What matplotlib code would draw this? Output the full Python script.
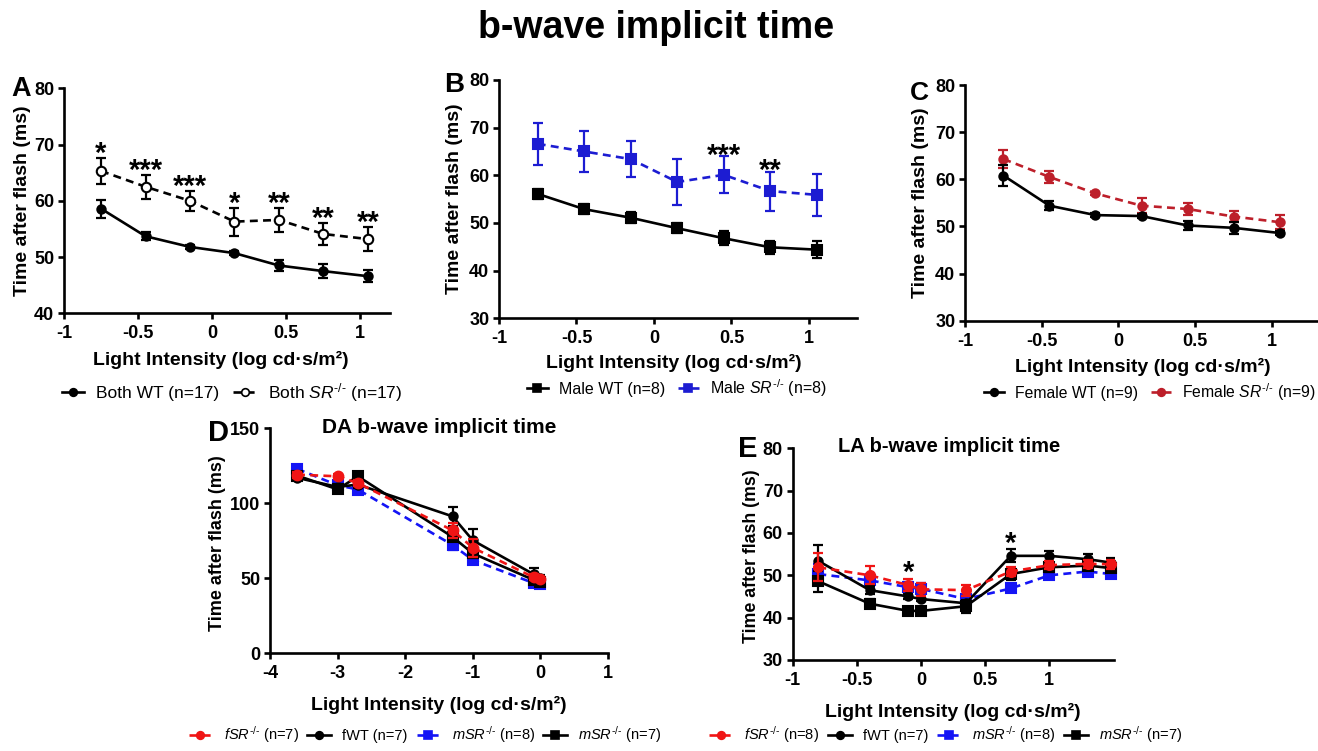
import matplotlib
matplotlib.use('Agg')
import matplotlib.pyplot as plt
from matplotlib.lines import Line2D

plt.rcParams.update({
    'font.family': ['Liberation Sans', 'DejaVu Sans'],
    'axes.unicode_minus': False,
    'mathtext.fontset': 'custom',
    'mathtext.rm': 'Liberation Sans',
    'mathtext.it': 'Liberation Sans:italic',
    'mathtext.bf': 'Liberation Sans:bold',
})

# ---------------- data ----------------
x_abc = [-0.75, -0.45, -0.15, 0.15, 0.45, 0.75, 1.05]

a_wt = [58.6, 53.7, 51.8, 50.7, 48.5, 47.5, 46.6]
a_wt_err = [1.6, 0.7, 0.4, 0.3, 1.0, 1.2, 1.1]
a_sr = [65.3, 62.5, 60.0, 56.3, 56.6, 54.1, 53.2]
a_sr_err = [2.3, 2.1, 1.8, 2.5, 2.1, 2.0, 2.2]
a_stars = ['*', '***', '***', '*', '**', '**', '**']

b_wt = [56.1, 52.9, 51.1, 48.9, 46.8, 44.9, 44.4]
b_wt_err = [1.1, 1.0, 1.2, 1.1, 1.5, 1.4, 1.8]
b_sr = [66.6, 65.0, 63.4, 58.6, 60.1, 56.7, 55.9]
b_sr_err = [4.4, 4.2, 3.7, 4.9, 3.9, 4.1, 4.4]
b_stars = ['', '', '', '', '***', '**', '']

c_wt = [60.8, 54.4, 52.4, 52.2, 50.2, 49.7, 48.6]
c_wt_err = [2.3, 1.0, 0.4, 0.5, 1.0, 1.3, 0.5]
c_sr = [64.3, 60.5, 57.0, 54.4, 53.7, 52.1, 50.9]
c_sr_err = [1.9, 1.2, 0.4, 1.6, 1.2, 1.1, 1.5]

x_d = [-3.6, -3.0, -2.7, -1.3, -1.0, -0.1, 0.0]
d_fsr = [119.1, 118.0, 113.5, 82.0, 70.4, 50.7, 49.6]
d_fsr_err = [2.0, 1.5, 2.0, 5.0, 6.0, 2.0, 1.5]
d_fwt = [117.0, 110.9, 112.5, 91.3, 75.3, 52.7, 50.5]
d_fwt_err = [1.5, 2.0, 2.0, 6.2, 7.8, 4.5, 1.5]
d_msr = [123.0, 112.0, 109.2, 72.2, 62.2, 46.8, 46.2]
d_msr_err = [1.5, 2.0, 1.5, 3.0, 2.5, 1.5, 1.5]
d_mwt = [118.5, 109.3, 118.0, 77.6, 66.6, 48.9, 47.8]
d_mwt_err = [1.5, 2.0, 1.5, 3.0, 3.0, 1.5, 1.5]

x_e = [-0.8, -0.4, -0.1, 0.0, 0.35, 0.7, 1.0, 1.3, 1.48]
e_fsr = [51.9, 50.0, 47.7, 46.7, 46.5, 50.9, 52.4, 52.7, 52.6]
e_fsr_err = [3.3, 2.1, 1.5, 1.6, 1.3, 1.0, 1.0, 1.0, 1.0]
e_fwt = [53.4, 46.5, 45.0, 44.4, 43.4, 54.6, 54.6, 53.8, 53.0]
e_fwt_err = [3.7, 1.0, 0.5, 0.5, 0.5, 1.5, 1.2, 1.2, 1.2]
e_msr = [50.3, 48.8, 47.2, 46.8, 44.4, 46.9, 50.0, 50.9, 50.3]
e_msr_err = [2.4, 1.5, 1.3, 1.3, 1.0, 0.8, 0.8, 0.8, 0.8]
e_mwt = [48.6, 43.3, 41.6, 41.6, 42.7, 50.3, 51.9, 52.3, 51.7]
e_mwt_err = [2.5, 1.0, 0.6, 0.6, 1.5, 1.5, 1.0, 1.0, 1.0]
e_stars = ['', '', '*', '', '', '*', '', '', '']

xt_abc = [-1, -0.5, 0, 0.5, 1]
xt_abc_lab = ['-1', '-0.5', '0', '0.5', '1']
xt_d = [-4, -3, -2, -1, 0, 1]
xt_d_lab = ['-4', '-3', '-2', '-1', '0', '1']

# ---------------- layout helpers ----------------
W, H = 1318, 751
fig = plt.figure(figsize=(W / 100, H / 100), dpi=100)

LW = 1.9
BLUE_B = '#1c1cd2'
RED_C = '#bd1f2a'
RED = '#f01515'
BLUE = '#1414f5'
XLABEL = 'Light Intensity (log cd·s/m²)'
YLABEL = 'Time after flash (ms)'
HY = '\u2010/\u2010'


def add_axes(l, t, r, b):
    return fig.add_axes([l / W, 1 - b / H, (r - l) / W, (b - t) / H])


def style(ax, xlim, ylim, xt, xtl, yt, xlab_xy, ylab_xy, lab_fs=14, ylab_fs=14, tick_fs=13):
    ax.set_xlim(*xlim)
    ax.set_ylim(*ylim)
    for s in ['top', 'right']:
        ax.spines[s].set_visible(False)
    for s in ['left', 'bottom']:
        ax.spines[s].set_linewidth(LW)
    ax.set_xticks(xt)
    ax.set_xticklabels(xtl, fontweight='bold', fontsize=tick_fs)
    ax.set_yticks(yt)
    ax.set_yticklabels([str(v) for v in yt], fontweight='bold', fontsize=tick_fs)
    ax.tick_params(axis='both', width=LW, length=4.5)
    ax.tick_params(axis='x', pad=4)
    ax.tick_params(axis='y', pad=2.5)
    ax.set_xlabel(XLABEL, fontweight='bold', fontsize=lab_fs)
    ax.set_ylabel(YLABEL, fontweight='bold', fontsize=ylab_fs)
    ax.xaxis.set_label_coords(*xlab_xy)
    ax.yaxis.set_label_coords(*ylab_xy)
    ax.xaxis.label.set_verticalalignment('center')
    ax.yaxis.label.set_verticalalignment('center')


def series(ax, x, y, err, color, marker, ms, dashed=False, mfc=None, z=3):
    ax.errorbar(x, y, yerr=err, fmt='none', ecolor=color, elinewidth=1.6,
                capsize=3.6, capthick=1.6, zorder=z)
    ls = (0, (3, 2)) if dashed else '-'
    ax.plot(x, y, color=color, lw=LW, linestyle=ls, marker=marker, ms=ms,
            mfc=mfc if mfc else color, mec=color, mew=1.5, zorder=z + 0.5,
            clip_on=False)


def stars(ax, x, tops, labels, off, fs=21):
    for xi, ti, s in zip(x, tops, labels):
        if s:
            ax.annotate(s, (xi, ti + off), xytext=(0, -0.57 * fs), textcoords='offset points',
                        ha='center', va='baseline', fontsize=fs, fontweight='bold')


def leg_handle(color, marker, dashed=False, mfc=None, ms=5.5):
    return Line2D([], [], color=color, lw=LW, linestyle=(0, (3, 2)) if dashed else '-',
                  marker=marker, ms=ms, mfc=mfc if mfc else color, mec=color, mew=1.2)


def sr_lab(prefix):
    return r'$\mathit{' + prefix + r'}^{\mathit{' + HY + r'}}$'


# ---------------- Panel A ----------------
axA = add_axes(64, 88.3, 390, 313.3)
series(axA, x_abc, a_wt, a_wt_err, 'black', 'o', 6)
series(axA, x_abc, a_sr, a_sr_err, 'black', 'o', 6.8, dashed=True, mfc='white')
style(axA, (-1, 1.2), (40, 80), xt_abc, xt_abc_lab, [40, 50, 60, 70, 80],
      (0.48, -0.2076), (-0.126, 0.5))
stars(axA, x_abc, [v + e for v, e in zip(a_sr, a_sr_err)], a_stars, 2.2)
axA.legend([leg_handle('black', 'o'), leg_handle('black', 'o', dashed=True, mfc='white')],
           ['Both WT (n=17)', 'Both ' + sr_lab('SR') + ' (n=17)'],
           loc='center', bbox_to_anchor=(0.515, -0.35), ncol=2, frameon=False,
           fontsize=12.5, handlelength=1.3, handletextpad=0.7, columnspacing=0.8)

# ---------------- Panel B ----------------
axB = add_axes(499, 80, 857, 318.3)
series(axB, x_abc, b_wt, b_wt_err, 'black', 's', 6.5)
series(axB, x_abc, b_sr, b_sr_err, BLUE_B, 's', 6.5, dashed=True)
style(axB, (-1, 1.31), (30, 80), xt_abc, xt_abc_lab, [30, 40, 50, 60, 70, 80],
      (0.489, -0.1876), (-0.123, 0.5))
stars(axB, x_abc, [v + e for v, e in zip(b_sr, b_sr_err)], b_stars, 1.9)
axB.legend([leg_handle('black', 's'), leg_handle(BLUE_B, 's', dashed=True)],
           ['Male WT (n=8)', 'Male ' + sr_lab('SR') + ' (n=8)'],
           loc='center', bbox_to_anchor=(0.497, -0.2925), ncol=2, frameon=False,
           fontsize=11.5, handlelength=1.3, handletextpad=0.7, columnspacing=0.8)

# ---------------- Panel C ----------------
axC = add_axes(965, 85, 1318, 320.7)
series(axC, x_abc, c_wt, c_wt_err, 'black', 'o', 6)
series(axC, x_abc, c_sr, c_sr_err, RED_C, 'o', 6, dashed=True, z=2)
style(axC, (-1, 1.3), (30, 80), xt_abc, xt_abc_lab, [30, 40, 50, 60, 70, 80],
      (0.504, -0.196), (-0.127, 0.5))
axC.legend([leg_handle('black', 'o'), leg_handle(RED_C, 'o', dashed=True)],
           ['Female WT (n=9)', 'Female ' + sr_lab('SR') + ' (n=9)'],
           loc='center', bbox_to_anchor=(0.523, -0.3025), ncol=2, frameon=False,
           fontsize=11.3, handlelength=1.3, handletextpad=0.7, columnspacing=0.8)

# ---------------- Panel D ----------------
axD = add_axes(270, 428.3, 608, 653.3)
series(axD, x_d, d_msr, d_msr_err, BLUE, 's', 6.5, dashed=True, z=2)
series(axD, x_d, d_mwt, d_mwt_err, 'black', 's', 6.5, z=3)
series(axD, x_d, d_fwt, d_fwt_err, 'black', 'o', 6, z=4)
series(axD, x_d, d_fsr, d_fsr_err, RED, 'o', 7, dashed=True, z=5)
style(axD, (-4, 1), (0, 150), xt_d, xt_d_lab, [0, 50, 100, 150],
      (0.5, -0.23), (-0.154, 0.49), ylab_fs=13)
fig.text(439 / W, 1 - 427.5 / H, 'DA b-wave implicit time', ha='center', va='center',
         fontsize=15, fontweight='bold')
lab_d = [sr_lab('fSR') + ' (n=7)', 'fWT (n=7)', sr_lab('mSR') + ' (n=8)',
         sr_lab('mSR') + ' (n=7)']
hd = [leg_handle(RED, 'o', dashed=True), leg_handle('black', 'o'),
      leg_handle(BLUE, 's', dashed=True), leg_handle('black', 's')]
axD.legend(hd, lab_d, loc='center', bbox_to_anchor=(0.459, -0.363), ncol=4, frameon=False,
           fontsize=10.5, handlelength=1.6, handletextpad=0.8, columnspacing=0.6)

# ---------------- Panel E ----------------
axE = add_axes(792.7, 448.3, 1113.5, 660)
series(axE, x_e, e_msr, e_msr_err, BLUE, 's', 6.5, dashed=True, z=2)
series(axE, x_e, e_mwt, e_mwt_err, 'black', 's', 6.5, z=3)
series(axE, x_e, e_fwt, e_fwt_err, 'black', 'o', 6, z=4)
series(axE, x_e, e_fsr, e_fsr_err, RED, 'o', 6.5, dashed=True, z=5)
style(axE, (-1, 1.5), (30, 80), xt_abc, xt_abc_lab, [30, 40, 50, 60, 70, 80],
      (0.498, -0.2456), (-0.128, 0.49), ylab_fs=12.8)
e_tops = [max(a + b, c + d, e + f, g + h) for a, b, c, d, e, f, g, h in
          zip(e_fsr, e_fsr_err, e_fwt, e_fwt_err, e_msr, e_msr_err, e_mwt, e_mwt_err)]
stars(axE, x_e, e_tops, e_stars, 3.4)
fig.text(949 / W, 1 - 446.5 / H, 'LA b-wave implicit time', ha='center', va='center',
         fontsize=14.5, fontweight='bold')
lab_e = [sr_lab('fSR') + ' (n=8)', 'fWT (n=7)', sr_lab('mSR') + ' (n=8)',
         sr_lab('mSR') + ' (n=7)']
axE.legend(hd, lab_e, loc='center', bbox_to_anchor=(0.478, -0.354), ncol=4, frameon=False,
           fontsize=10.5, handlelength=1.6, handletextpad=0.8, columnspacing=0.6)

# ---------------- titles & letters ----------------
fig.text(656 / W, 1 - 28 / H, 'b-wave implicit time', ha='center', va='center',
         fontsize=27, fontweight='bold')
for letter, lx, ly, fs in [('A', 11, 96, 19.5), ('B', 444, 92, 20), ('C', 910, 100, 19),
                           ('D', 208, 441, 21), ('E', 738, 457, 21)]:
    fig.text(lx / W, 1 - ly / H, letter, ha='left', va='baseline', fontsize=fs,
             fontweight='bold')

fig.savefig('out.png', dpi=100)
